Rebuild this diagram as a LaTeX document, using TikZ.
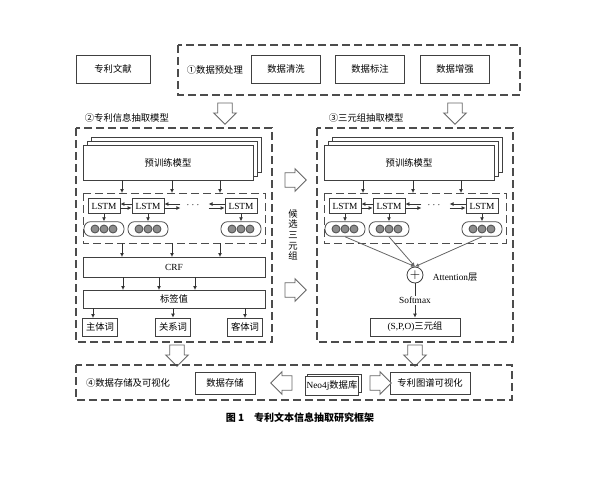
\documentclass[tikz,border=0pt]{standalone}
\usepackage{fontspec}
\setmainfont{Liberation Serif}
\newfontfamily\cjk{Noto Sans CJK SC}
\usetikzlibrary{shapes.arrows,arrows.meta}
\tikzset{every picture/.style={line width=0.6pt}}
\tikzset{
  box/.style={draw=black!75,fill=white,inner sep=0pt,font=\cjk\fontsize{7}{8}\selectfont},
  dbox/.style={draw=black!70,dash pattern=on 6pt off 3pt,line width=0.9pt},
  hollow/.style={single arrow,draw=black!60,fill=white,minimum height=16pt,minimum width=17pt,
    single arrow head extend=2.5pt,inner xsep=0pt,inner ysep=4pt},
  arr/.style={-{Latex[length=3pt,width=3pt]},black!80},
  pill/.style={draw=black!70,rounded corners=5pt,minimum width=30pt,minimum height=11pt,fill=white},
  dot/.style={circle,draw=black!70,fill=black!45,minimum size=6pt,inner sep=0pt},
  lab/.style={font=\cjk\fontsize{7}{8}\selectfont}
}
\begin{document}
\begin{tikzpicture}[x=0.75pt,y=0.75pt,yscale=-1,xscale=1]
\useasboundingbox (0,0) rectangle (600,480);

% stage 1
\node[box,minimum width=74pt*0.75,minimum height=28*0.75pt] (doc) at (113,69) {专利文献};
\draw[dbox] (178,45) rectangle (520,95);
\node[lab,anchor=west] (lab1) at (182,70) {①数据预处理};
\node[box,minimum width=52pt,minimum height=21pt] (clean) at (286,69) {数据清洗};
\node[box,minimum width=52pt,minimum height=21pt] (mark) at (370,69) {数据标注};
\node[box,minimum width=52pt,minimum height=21pt] (aug) at (455,69) {数据增强};

\node[hollow,rotate=-90] (d1) at (225,110) {};
\node[hollow,rotate=-90] (d2) at (455,110) {};

% stage 2 and 3
\node[lab,anchor=west] (lab2) at (80,118) {②专利信息抽取模型};
\node[lab,anchor=west] (lab3) at (324,118) {③三元组抽取模型};
\foreach \dx/\k in {0/a,241/b}{
\begin{scope}[xshift=\dx*0.75pt]
  \draw[dbox] (76,128) rectangle (272,342);
  \draw[fill=white,draw=black!75] (91,137) rectangle (261,172);
  \draw[fill=white,draw=black!75] (87,141) rectangle (257,176);
  \node[box,minimum width=127.5pt,minimum height=26.25pt] (pre\k) at (168,162.5) {预训练模型};
  \draw[dbox,line width=0.7pt] (83,193) rectangle (265,243);
  \node[box,font=\fontsize{7}{8}\selectfont,minimum width=24pt,minimum height=11pt] (l1\k) at (104,206) {LSTM};
  \node[box,font=\fontsize{7}{8}\selectfont,minimum width=24pt,minimum height=11pt] (l2\k) at (148,206) {LSTM};
  \node[box,font=\fontsize{7}{8}\selectfont,minimum width=24pt,minimum height=11pt] (l3\k) at (241,206) {LSTM};
  \node[font=\fontsize{7}{8}\selectfont] (dots\k) at (193,205) {$\cdots$};
  \foreach \i/\x in {1/104,2/148,3/241}{
    \node[pill] (p\i\k) at (\x,229) {};
    \foreach \j in {-9,0,9} \node[dot] at (\x+\j,229) {};
    \draw[arr] (l\i\k) -- (p\i\k);
  }
  \draw[arr] ([yshift=1.5pt]l1\k.east) -- ([yshift=1.5pt]l2\k.west);
  \draw[arr] ([yshift=-1.5pt]l2\k.west) -- ([yshift=-1.5pt]l1\k.east);
  \draw[arr] ([yshift=1.5pt]l2\k.east) -- +(12pt,0);
  \draw[arr] ([yshift=-1.5pt]l2\k.east)++(12pt,0) -- ([yshift=-1.5pt]l2\k.east);
  \draw[arr] ([yshift=-1.5pt]l3\k.west) -- +(-12pt,0);
  \draw[arr] ([yshift=1.5pt]l3\k.west)++(-12pt,0) -- ([yshift=1.5pt]l3\k.west);
  \foreach \x in {122,172,220} \draw[arr] (\x,180) -- (\x,193);
\end{scope}
}

% stage 2 lower part
\node[box,font=\fontsize{7}{8}\selectfont,minimum width=136.5pt,minimum height=15pt] (crf) at (174,267) {CRF};
\node[box,minimum width=136.5pt,minimum height=13.5pt] (tag) at (174,299) {标签值};
\foreach \x in {122,172,220} \draw[arr] (\x,243) -- (\x,257);
\foreach \x in {123,159,195} \draw[arr] (\x,277) -- (\x,290);
\node[box,minimum width=26pt,minimum height=13.5pt] (subj) at (100,327) {主体词};
\node[box,minimum width=26pt,minimum height=13.5pt] (rel) at (173,327) {关系词};
\node[box,minimum width=26pt,minimum height=13.5pt] (obj) at (245,327) {客体词};
\draw[arr] (93,308) -- (93,318);
\draw[arr] (rel|-tag.south) -- (rel);
\draw[arr] (245,308) -- (245,318);

% middle
\node[hollow] (r1) at (292,180) {};
\node[hollow] (r2) at (292,290) {};
\node[lab,align=center,inner sep=0pt] (cand) at (293,235) {候\\选\\三\\元\\组};

% stage 3 lower part
\node[circle,draw=black!75,minimum size=12pt,inner sep=0pt] (plus) at (415,275) {$+$};
\foreach \i in {1,2,3} \draw[arr,black!60] (p\i b.south) -- (plus.north);
\node[font=\fontsize{7}{8}\selectfont,anchor=west] (att) at (428,277) {Attention{\cjk 层}};
\node[box,minimum width=67.5pt,minimum height=13.5pt] (spo) at (415,327) {\rmfamily(S,P,O){\cjk 三元组}};
\draw[arr] (plus) -- node[fill=white,text=black,font=\fontsize{7}{8}\selectfont,inner sep=1pt] {Softmax} (spo);

\node[hollow,rotate=-90] (d3) at (177,352) {};
\node[hollow,rotate=-90] (d4) at (415,352) {};

% stage 4
\draw[dbox] (76,365) rectangle (512,400);
\node[lab] (lab4) at (128,383) {④数据存储及可视化};
\node[box,minimum width=45pt,minimum height=16.5pt] (store) at (225,383) {数据存储};
\draw[fill=white,draw=black!75] (307,374) rectangle (361,392);
\node[box,font=\fontsize{7}{8}\selectfont,minimum width=40pt,minimum height=14pt] (neo) at (332,386) {Neo4j{\cjk 数据库}};
\node[box,minimum width=60pt,minimum height=16.5pt] (vis) at (430,383) {专利图谱可视化};
\node[hollow,rotate=180] (lft) at (285,383) {};
\node[hollow] (rgt) at (377,383) {};

\node[font=\cjk\bfseries\fontsize{7.5}{9}\selectfont] (cap) at (300,418) {图 1\quad 专利文本信息抽取研究框架};
\end{tikzpicture}
\end{document}
